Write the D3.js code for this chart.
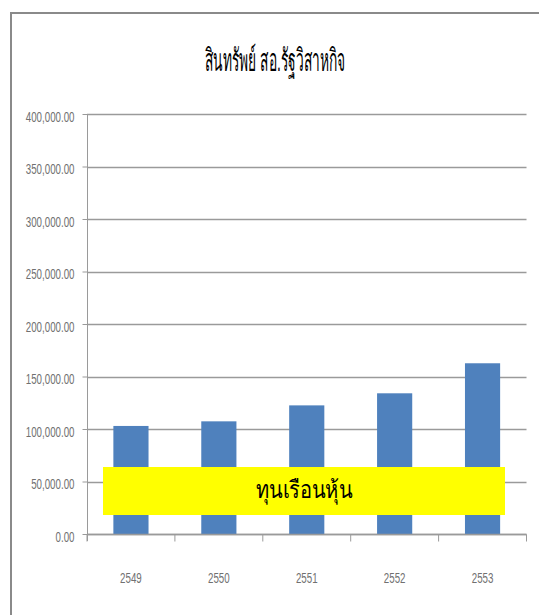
<!DOCTYPE html>
<html>
<head>
<meta charset="utf-8">
<script src="https://cdn.jsdelivr.net/npm/d3@7"></script>
<style>
  html, body { margin: 0; padding: 0; background: #fff; }
  svg { display: block; }
</style>
</head>
<body>
<svg id="chart" width="539" height="615"></svg>
<script>
const title = "สินทรัพย์ สอ.รัฐวิสาหกิจ";
const categories = ["2549", "2550", "2551", "2552", "2553"];
const values = [102900, 107300, 122500, 134000, 162600];
const yTicks = [0, 50000, 100000, 150000, 200000, 250000, 300000, 350000, 400000];
const overlayLabel = "ทุนเรือนหุ้น";

(function () {
const svg = d3.select("#chart");
const W = 539, H = 615;
const pLeft = 87, pRight = 526.5, pTop = 114, pBottom = 534;
const SX = 0.65;
const labelFont = "'Liberation Sans', Arial, sans-serif";

// outer border
svg.append("path")
  .attr("d", `M11,${H} L11,13 L${W},13`)
  .attr("fill", "none").attr("stroke", "#8a8a8a").attr("stroke-width", 2);

const x = d3.scaleBand().domain(categories).range([pLeft, pRight]).paddingInner(0.6).paddingOuter(0.3);
const xOuter = d3.scaleBand().domain(categories).range([pLeft, pRight]);
const y = d3.scaleLinear().domain([0, 400000]).range([pBottom, pTop]);

// gridlines
svg.append("g").selectAll("line").data(yTicks).join("line")
  .attr("x1", pLeft).attr("x2", pRight)
  .attr("y1", d => Math.round(y(d)) + 0.5).attr("y2", d => Math.round(y(d)) + 0.5)
  .attr("stroke", "#9a9a9a").attr("stroke-width", 1.5);

// bars
svg.append("g").selectAll("rect").data(values).join("rect")
  .attr("x", (d, i) => x(categories[i]))
  .attr("width", x.bandwidth())
  .attr("y", d => y(d))
  .attr("height", d => y(0) - y(d))
  .attr("fill", "#4f81bd");

// y axis
const yAxis = d3.axisLeft(y).tickValues(yTicks).tickSize(5).tickPadding(8)
  .tickFormat(d => d3.format(",.2f")(d));
const gy = svg.append("g").attr("transform", `translate(${pLeft + 0.5},0)`).call(yAxis);
gy.select(".domain").attr("d", `M0,${pTop}V541`).attr("stroke", "#9a9a9a");
gy.selectAll(".tick line").attr("stroke", "#9a9a9a");
gy.selectAll(".tick text")
  .attr("fill", "#707070")
  .attr("x", -13 / SX)
  .attr("dy", "0.47em")
  .attr("transform", `scale(${SX},1)`)
  .style("font-family", labelFont)
  .style("font-size", "15px");

// x axis
const gx = svg.append("g").attr("transform", `translate(0,${pBottom + 0.5})`);
gx.append("line").attr("x1", pLeft).attr("x2", pRight).attr("stroke", "#9a9a9a").attr("stroke-width", 1.5);
const bounds = categories.map(c => xOuter(c)).concat([pRight]);
gx.selectAll("line.tk").data(bounds).join("line").attr("class", "tk")
  .attr("x1", d => d).attr("x2", d => d).attr("y1", 0).attr("y2", 7)
  .attr("stroke", "#9a9a9a");
gx.selectAll("text").data(categories).join("text")
  .attr("transform", d => `translate(${xOuter(d) + xOuter.bandwidth() / 2},48) scale(${SX},1)`)
  .attr("text-anchor", "middle")
  .attr("fill", "#707070")
  .style("font-family", labelFont)
  .style("font-size", "15px")
  .text(d => d);

// title
svg.append("text")
  .attr("x", 205).attr("y", 71)
  .attr("textLength", 140)
  .attr("lengthAdjust", "spacingAndGlyphs")
  .attr("fill", "#000")
  .style("font-size", "31px")
  .style("font-family", "sans-serif")
  .text(title);

// yellow overlay box
svg.append("rect").attr("x", 103).attr("y", 467).attr("width", 402).attr("height", 48).attr("fill", "#ffff00");
svg.append("text")
  .attr("x", 256).attr("y", 498)
  .attr("textLength", 96)
  .attr("lengthAdjust", "spacingAndGlyphs")
  .attr("fill", "#000")
  .style("font-size", "24px")
  .style("font-weight", "normal")
  .style("font-family", "sans-serif")
  .text(overlayLabel);
})();
</script>
</body>
</html>
